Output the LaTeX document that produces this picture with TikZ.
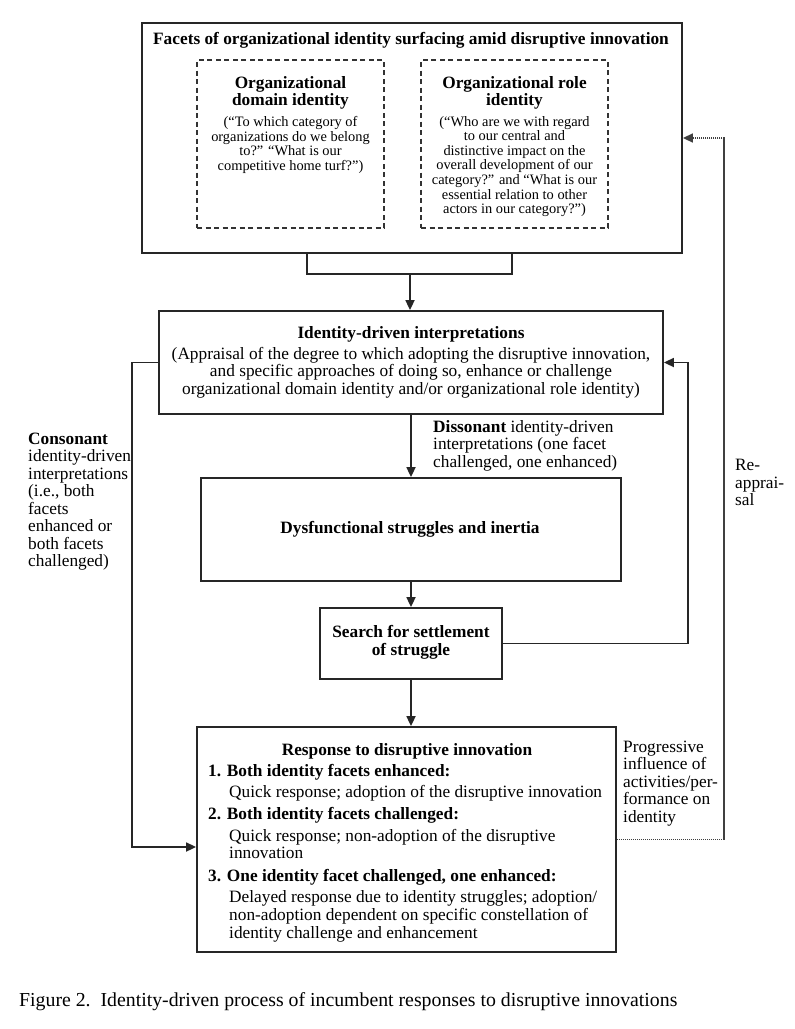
\documentclass[tikz,border=0pt]{standalone}
\usepackage{fontspec}
\setmainfont{Liberation Serif}
\usetikzlibrary{arrows.meta,calc}
\newcommand\fmain{\fontsize{17.3}{17.5}\selectfont}
\newcommand\fsmall{\fontsize{14.4}{14.6}\selectfont}
\begin{document}
\begin{tikzpicture}[x=1pt,y=-1pt,
  box/.style={draw=black!85, line width=1.8pt, inner sep=0pt},
  dbox/.style={draw=black!80, line width=1.5pt, dash pattern=on 5pt off 3.5pt, inner sep=0pt},
  conn/.style={draw=black!85, line width=1.7pt},
  arr/.style={conn, -{Triangle[length=10pt,width=9pt]}},
  dotarr/.style={draw=black!75, line width=1.5pt, dash pattern=on 1.2pt off 0.8pt, -{Triangle[length=10pt,width=9pt]}},
  txt/.style={inner sep=0pt, font=\fmain},
  ln/.style={txt, text height=12pt, text depth=4pt, anchor=west}]
\useasboundingbox (0,0) rectangle (795,1029);

% top box
\node[box, minimum width=540pt, minimum height=230pt] (top) at (412,138) {};
\node[txt, font=\fmain\bfseries] (toptitle) at (411,40) {Facets of organizational identity surfacing amid disruptive innovation};
\node[dbox, minimum width=187pt, minimum height=168pt] (dom) at (290.5,144) {};
\node[dbox, minimum width=187pt, minimum height=168pt] (role) at (514.5,144) {};
\node[txt, font=\fontsize{17.3}{17}\selectfont\bfseries, align=center] (domh) at (290.5,92.5) {Organizational\\domain identity};
\node[txt, font=\fsmall, align=center] (domt) at (290.5,145) {(“To which category of\\organizations do we belong\\to?” “What is our\\competitive home turf?”)};
\node[txt, font=\fontsize{17.3}{17}\selectfont\bfseries, align=center] (roleh) at (514.5,92.5) {Organizational role\\identity};
\node[txt, font=\fsmall, align=center] (rolet) at (514.5,166.5) {(“Who are we with regard\\to our central and\\distinctive impact on the\\overall development of our\\category?” and “What is our\\essential relation to other\\actors in our category?”)};

% junction
\coordinate (jl) at ([xshift=-105pt]top.south);
\coordinate (jr) at ([xshift=100pt]top.south);
\coordinate (jm) at (410,274);
\draw[conn] (jl) -- (jl |- jm) -- (jr |- jm) -- (jr);

% middle box
\node[box, minimum width=504pt, minimum height=103pt] (mid) at (411,362.5) {};
\node[txt, font=\fmain\bfseries] (midh) at (411,334) {Identity-driven interpretations};
\node[txt, align=center] (midt) at (411,372.5) {(Appraisal of the degree to which adopting the disruptive innovation,\\and specific approaches of doing so, enhance or challenge\\organizational domain identity and/or organizational role identity)};

\draw[arr] (jm) -- (jm |- mid.north);

% struggles
\node[box, minimum width=420pt, minimum height=103pt] (strug) at (411,529.5) {};
\node[txt, font=\fmain\bfseries] (strugt) at (410,529) {Dysfunctional struggles and inertia};

% search
\node[box, minimum width=182pt, minimum height=71pt] (search) at (411,643.5) {};
\node[txt, font=\fontsize{17.3}{18}\selectfont\bfseries, align=center] (searcht) at (411,642) {Search for settlement\\of struggle};

% response
\node[box, minimum width=419pt, minimum height=225pt] (resp) at (406.5,839.5) {};
\node[txt, font=\fmain\bfseries] (rh) at (407,751) {Response to disruptive innovation};
\node[ln, font=\fmain\bfseries] (r1) at (208,772) {1. Both identity facets enhanced:};
\node[ln] (r1a) at (229,793) {Quick response; adoption of the disruptive innovation};
\node[ln, font=\fmain\bfseries] (r2) at (208,815) {2. Both identity facets challenged:};
\node[ln] (r2a) at (229,837) {Quick response; non-adoption of the disruptive};
\node[ln] (r2b) at (229,854) {innovation};
\node[ln, font=\fmain\bfseries] (r3) at (208,877) {3. One identity facet challenged, one enhanced:};
\node[ln] (r3a) at (229,898) {Delayed response due to identity struggles; adoption/};
\node[ln] (r3b) at (229,916) {non-adoption dependent on specific constellation of};
\node[ln] (r3c) at (229,934) {identity challenge and enhancement};

% connectors
\draw[arr] (mid.south) -- (strug.north);
\draw[arr] (strug.south) -- (search.north);
\draw[arr] (search.south) -- (search.south |- resp.north);
\draw[arr] (search.east) -- ++(185,0) |- (mid.east);
\draw[arr] (mid.west) -- ++(-26,0) |- ([yshift=-7.5pt]resp.west);
\draw[dotarr] (resp.east) -- ++(107,0) |- (top.east);

% labels
\node[txt, align=left, anchor=west] (diss) at (433,445.5) {\textbf{Dissonant} identity-driven\\interpretations (one facet\\challenged, one enhanced)};
\node[txt, align=left, anchor=west] (cons) at (28,501.5) {\textbf{Consonant}\\identity-driven\\interpretations\\(i.e., both\\facets\\enhanced or\\both facets\\challenged)};
\node[txt, align=left, anchor=west] (reap) at (735,482.5) {Re-\\apprai-\\sal};
\node[txt, align=left, anchor=west] (prog) at (623,783.5) {Progressive\\influence of\\activities/per-\\formance on\\identity};

% caption
\node[txt, anchor=west, font=\fontsize{19.8}{20}\selectfont] (cap) at (19,1002) {Figure 2.\ \ Identity-driven process of incumbent responses to disruptive innovations};
\end{tikzpicture}
\end{document}
